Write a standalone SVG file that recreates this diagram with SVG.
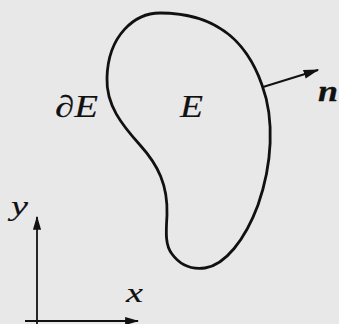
<svg xmlns="http://www.w3.org/2000/svg" width="339" height="324" viewBox="0 0 339 324">
<defs>
<style>
text{font-family:"Liberation Serif",serif;font-style:italic;fill:#111;stroke:#111;stroke-width:0.15}
</style>
<marker id="ah2" viewBox="0 0 12 10" refX="11" refY="5" markerWidth="8" markerHeight="6.5" orient="auto" markerUnits="strokeWidth"><path d="M0,1.5 L12,5 L0,8.5 Z" fill="#111"/></marker>
</defs>
<rect width="339" height="324" fill="#e8e8e8"/>
<g id="region">
<path stroke="#111" fill="none" stroke-width="2.8" d="M160,13 C135,13 108,35 107,78 C106,105 122,125 140,145 C158,165 168,185 167,215 C166,232 165,245 172,254 C180,265 190,270 205,268 C225,265 245,240 258,205 C272,165 275,120 262,85 C248,45 220,13 160,13 Z"/>
<text x="180" y="117" font-size="31" textLength="23" lengthAdjust="spacingAndGlyphs">E</text>
</g>
<g id="boundary">
<text x="55" y="117" font-size="31" textLength="43" lengthAdjust="spacingAndGlyphs">∂E</text>
</g>
<g id="normal">
<text x="318" y="101" font-size="30" font-weight="bold" style="stroke-width:0.3" textLength="20" lengthAdjust="spacingAndGlyphs">n</text>
</g>
<g id="axes">
<text x="11" y="215" font-size="28" textLength="17" lengthAdjust="spacingAndGlyphs">y</text>
<text x="126" y="302" font-size="28" textLength="17" lengthAdjust="spacingAndGlyphs">x</text>
</g>
<g id="connectors">
<line stroke="#111" stroke-width="2" x1="263" y1="87" x2="318" y2="70" marker-end="url(#ah2)"/>
<line stroke="#111" stroke-width="1.8" x1="37" y1="324" x2="37" y2="217" marker-end="url(#ah2)"/>
<line stroke="#111" stroke-width="1.8" x1="25" y1="321" x2="138" y2="321" marker-end="url(#ah2)"/>
</g>
</svg>
